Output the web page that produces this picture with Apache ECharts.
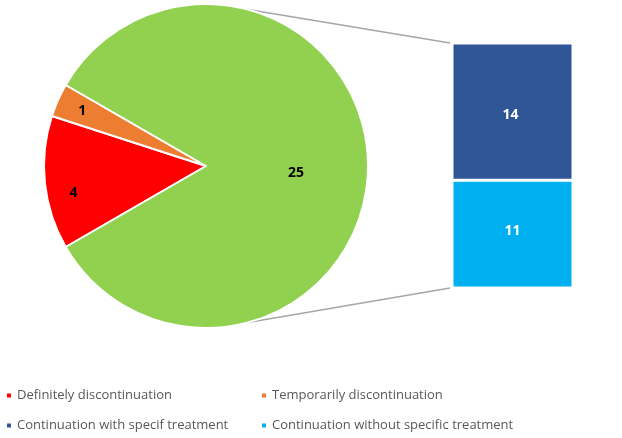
<!DOCTYPE html>
<html><head><meta charset="utf-8">
<script src="https://cdn.jsdelivr.net/npm/echarts@6/dist/echarts.min.js"></script>
<style>html,body{margin:0;padding:0;background:#fff}#c{width:622px;height:438px}</style>
</head><body><div id="c"></div>
<script>
// ---- data ----
const pieNames = ['Definitely discontinuation', 'Temporarily discontinuation', 'Continuation'];
const pieValues = [4, 1, 25];
const barNames = ['Continuation without specific treatment', 'Continuation with specif treatment'];
const barValues = [11, 14];
const barCategories = ['Continuation'];

// ---- styles ----
const pieColors = ['#FF0000', '#ED7D31', '#92D050'];
const barColors = ['#00B0F0', '#2F5597'];
const labelOffsets = [[-49, 18], [-47, -21], [6, 7]];
const pieCenter = [206, 166], pieR = 162;
const gridBox = {left: 452, top: 43, width: 121, height: 245};
const legendSlots = [
  {name: pieNames[0], left: 5, top: 389},
  {name: pieNames[1], left: 260, top: 389},
  {name: barNames[1], left: 5, top: 419},
  {name: barNames[0], left: 260, top: 419}
];

const chart = echarts.init(document.getElementById('c'), null, {renderer: 'canvas'});
const total = barValues.reduce((a, b) => a + b, 0);

const option = {
  animation: false,
  textStyle: {fontFamily: 'Open Sans'},
  legend: legendSlots.map(s => ({
    left: s.left, top: s.top, padding: 0, itemWidth: 6, itemHeight: 6, itemGap: 0, icon: 'rect',
    selectedMode: false,
    textStyle: {color: '#595959', fontSize: 13, fontFamily: 'Open Sans'},
    data: [s.name]
  })),
  grid: Object.assign({containLabel: false}, gridBox),
  xAxis: {type: 'category', data: barCategories, show: false},
  yAxis: {type: 'value', min: 0, max: total, show: false},
  series: [
    {
      type: 'pie', center: pieCenter, radius: pieR, startAngle: 210, clockwise: true,
      itemStyle: {borderColor: '#fff', borderWidth: 2},
      label: {show: true, position: 'inside', color: '#000', fontWeight: 'bold', fontSize: 14, fontFamily: 'Open Sans'},
      labelLine: {show: false},
      emphasis: {disabled: true},
      data: pieValues.map((v, i) => ({
        name: pieNames[i], value: v,
        itemStyle: {color: pieColors[i]},
        label: {formatter: '{c}', offset: labelOffsets[i]}
      }))
    },
    ...barValues.map((v, i) => ({
      type: 'bar', name: barNames[i], stack: 'total', barWidth: '100%',
      data: [v],
      itemStyle: {color: barColors[i], borderColor: '#fff', borderWidth: 1.5},
      label: {show: true, position: 'inside', color: '#fff', fontWeight: 'bold', fontSize: 14, fontFamily: 'Open Sans',
              offset: i === 0 ? [0, -3] : [-2, 3]},
      emphasis: {disabled: true}
    }))
  ]
};
chart.setOption(option);

// connector lines from pie edge to bar corners (positions from the axes)
const yTop = chart.convertToPixel({yAxisIndex: 0}, total);
const yBot = chart.convertToPixel({yAxisIndex: 0}, 0);
const ang = 75 * Math.PI / 180;
const px = pieCenter[0] + pieR * Math.cos(ang);
const pyT = pieCenter[1] - pieR * Math.sin(ang);
const pyB = pieCenter[1] + pieR * Math.sin(ang);
chart.setOption({
  graphic: [
    {type: 'line', z: -1, shape: {x1: px, y1: pyT, x2: gridBox.left - 2, y2: yTop}, style: {stroke: '#A6A6A6', lineWidth: 1.5}},
    {type: 'line', z: -1, shape: {x1: px, y1: pyB, x2: gridBox.left - 2, y2: yBot}, style: {stroke: '#A6A6A6', lineWidth: 1.5}}
  ]
});
</script>
</body></html>
